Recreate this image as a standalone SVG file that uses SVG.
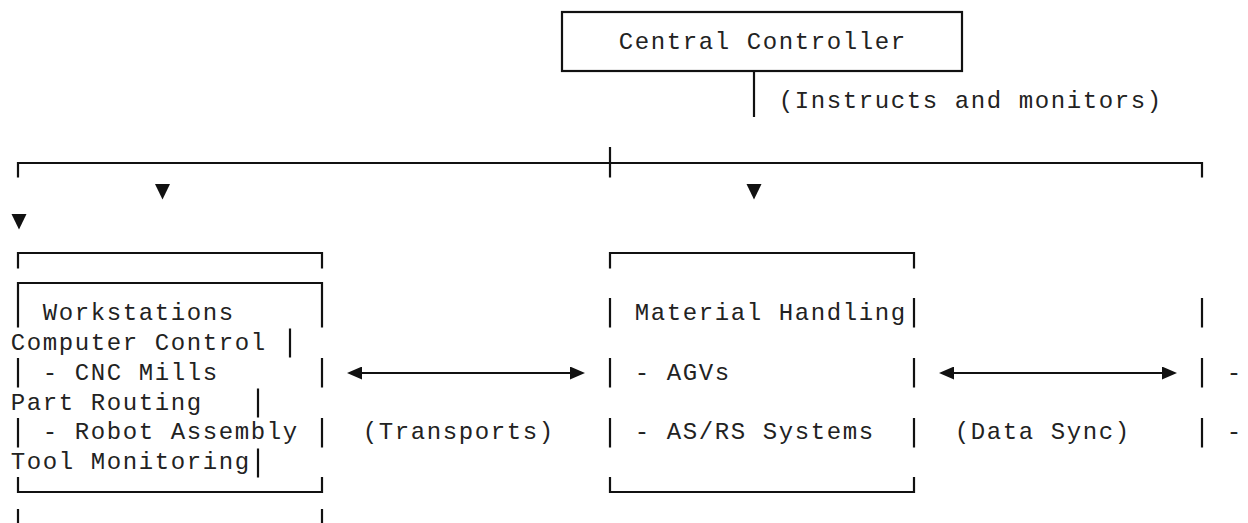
<svg xmlns="http://www.w3.org/2000/svg" xmlns:xlink="http://www.w3.org/1999/xlink" width="1248" height="523" viewBox="0 0 1248 523">
  <style>
    .t { font-family: "Liberation Mono", "DejaVu Sans Mono", monospace; font-size: 24px; letter-spacing: 1.6px; fill: #222; }
    .ln { fill: none; stroke: #111; stroke-width: 2.2; }
    .head { fill: #111; }
  </style>
  <defs>
    <marker id="arrow" viewBox="0 0 15 13" refX="0" refY="6.5" markerWidth="15" markerHeight="13" markerUnits="userSpaceOnUse" orient="auto-start-reverse">
      <path d="M0,0 L15,6.5 L0,13 z" class="head"/>
    </marker>
    <path id="down" d="M-7.5,0 L7.5,0 L0,15.5 z" class="head"/>
  </defs>

  <rect x="0" y="0" width="1248" height="523" fill="#fff"/>

  <!-- Central Controller -->
  <g id="central-controller">
    <rect class="ln" x="562" y="12" width="400" height="59"/>
    <text class="t" x="618.8" y="48.7">Central Controller</text>
  </g>

  <!-- Workstations -->
  <g id="workstations">
    <path class="ln" d="M18,268.5 V253 H322 V268.5"/>
    <path class="ln" d="M18,298 V327.5 M322,298 V327.5"/>
    <text class="t" x="42.8" y="320">Workstations</text>
    <path class="ln" d="M18,358 V387.5 M322,358 V387.5"/>
    <text class="t" x="42.8" y="380">- CNC Mills</text>
    <path class="ln" d="M18,418 V447.5 M322,418 V447.5"/>
    <text class="t" x="42.8" y="439">- Robot Assembly</text>
    <path class="ln" d="M18,477 V492 H322 V477"/>
  </g>

  <!-- Material Handling -->
  <g id="material-handling">
    <path class="ln" d="M610,268.5 V253 H914 V268.5"/>
    <path class="ln" d="M610,298 V327.5 M914,298 V327.5"/>
    <text class="t" x="634.8" y="320">Material Handling</text>
    <path class="ln" d="M610,358 V387.5 M914,358 V387.5"/>
    <text class="t" x="634.8" y="380">- AGVs</text>
    <path class="ln" d="M610,418 V447.5 M914,418 V447.5"/>
    <text class="t" x="634.8" y="439">- AS/RS Systems</text>
    <path class="ln" d="M610,477 V492 H914 V477"/>
  </g>

  <!-- Computer Control (wrapped onto the left column) -->
  <g id="computer-control">
    <path class="ln" d="M18,298 V283 H322 V298"/>
    <path class="ln" d="M1202,298 V327.5"/>
    <text class="t" x="10.8" y="350">Computer Control</text>
    <path class="ln" d="M290,328.5 V357.5"/>
    <path class="ln" d="M1202,358 V387.5"/>
    <text class="t" x="1226.8" y="380">-</text>
    <text class="t" x="10.8" y="409.5">Part Routing</text>
    <path class="ln" d="M258,388.5 V417.5"/>
    <path class="ln" d="M1202,418 V447.5"/>
    <text class="t" x="1226.8" y="439">-</text>
    <text class="t" x="10.8" y="469">Tool Monitoring</text>
    <path class="ln" d="M258,448.5 V477.5"/>
    <path class="ln" d="M18,509 V524 M322,509 V524"/>
  </g>

  <!-- Connectors -->
  <g id="connectors">
    <path class="ln" d="M754,71 V117"/>
    <text class="t" x="778.8" y="108">(Instructs and monitors)</text>
    <path class="ln" d="M18,177.5 V163 H1202 V177.5"/>
    <path class="ln" d="M610,147 V177.5"/>
    <use xlink:href="#down" x="162.5" y="184"/>
    <use xlink:href="#down" x="754" y="184"/>
    <use xlink:href="#down" x="19" y="214"/>
    <path class="ln" d="M362,373 H570" marker-start="url(#arrow)" marker-end="url(#arrow)"/>
    <text class="t" x="362.8" y="439">(Transports)</text>
    <path class="ln" d="M954,373 H1162" marker-start="url(#arrow)" marker-end="url(#arrow)"/>
    <text class="t" x="954.8" y="439">(Data Sync)</text>
  </g>
</svg>
